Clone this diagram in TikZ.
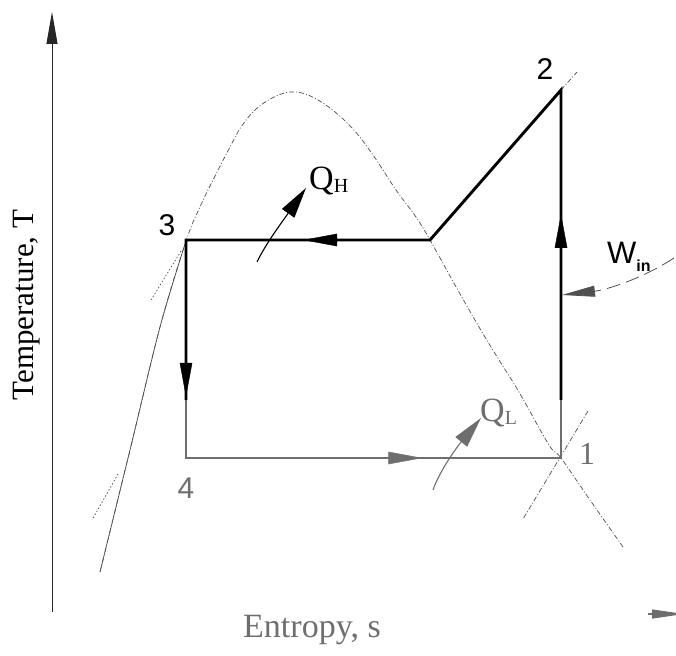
\documentclass[tikz,border=0pt]{standalone}
\usepackage{fontspec}
\setmainfont{Liberation Serif}
\newfontfamily\hsans{Liberation Sans}
\usetikzlibrary{arrows.meta,decorations.markings}
\definecolor{fade}{HTML}{6E6E6E}
\definecolor{domec}{HTML}{505050}
\begin{document}
\begin{tikzpicture}[x=1pt,y=-1pt,
  cyc/.style={line width=2.9pt,line join=miter},
  midarrow/.style={postaction={decorate},decoration={markings,
     mark=at position #1 with {\arrow{Triangle[length=34pt,width=12.5pt]}}}},
  thinln/.style={line width=0.7pt,domec},
  dashln/.style={line width=0.7pt,domec,dash pattern=on 5pt off 2pt on 1pt off 2pt},
  dotln/.style={line width=0.7pt,domec,dash pattern=on 1.5pt off 2pt},
  qarrow/.style={line width=1.1pt,-{Triangle[length=31pt,width=15pt]}},
  num/.style={inner sep=0pt,font=\hsans\fontsize{30}{30}\selectfont},
  big/.style={inner sep=0pt,font=\fontsize{31}{36}\selectfont}
]
\useasboundingbox (0,0) rectangle (676,655);

% axes
\coordinate (o) at (52,612);
\coordinate (ty) at (52,12);
\draw[line width=1pt,black!85,-{Triangle[length=32pt,width=11pt]}] (o) -- (ty);
\coordinate (xs) at (648,614);
\coordinate (xe) at (684,614);
\draw[line width=1.2pt,fade,-{Triangle[length=32pt,width=9pt]}] (xs) -- (xe);

% saturation dome
\draw[dashln] plot[smooth,tension=0.6] coordinates {
 (100,572) (130,450) (160,327) (186,241) (200,207) (213,180) (230,147)
 (241,127) (255,110) (272,98) (290,92) (308,95) (330,108) (353,129)
 (373,155) (396,190) (416,217) (430,240) (455,285) (479,327) (499,360)
 (519,392) (549,445) (561,458) (590,500) (623,547)};
\draw[thinln] plot[smooth] coordinates {(100,572) (130,450) (160,327) (186,241)};
% auxiliary lines
\coordinate (d1a) at (181,251); \coordinate (d1b) at (151,300);
\draw[dotln] (d1a) -- (d1b);
\coordinate (d2a) at (118,474); \coordinate (d2b) at (92,520);
\draw[dotln] (d2a) -- (d2b);
\coordinate (c1a) at (588,411); \coordinate (c1b) at (523,519);
\draw[dashln] (c1a) -- (c1b);

% cycle points
\coordinate (p1) at (561,458);
\coordinate (p2) at (561,90);
\coordinate (p2s) at (430,240);
\coordinate (p3) at (186,240);
\coordinate (p4) at (186,458);
\coordinate (g1) at (561,400);
\coordinate (g3) at (186,400);
\coordinate (p2e) at (577,72);
\draw[dashln] (p2) -- (p2e);

\draw[cyc] (g1) -- (p2) -- (p2s) -- (p3) -- (g3);
\draw[cyc,fade] (g3) -- (p4) -- (p1) -- (g1);
\path[midarrow=0.6] (g1) -- (p2);
\path[midarrow=0.52] (p2s) -- (p3);
\path[midarrow=0.98] (p3) -- (g3);
\path[fade,midarrow=0.63] (p4) -- (p1);

% heat / work arrows
\coordinate (qht) at (257,262); \coordinate (qhh) at (306,188);
\draw[qarrow] (qht) .. controls (265,245) and (282,222) .. (qhh);
\coordinate (qlt) at (433,490); \coordinate (qlh) at (481,418);
\draw[qarrow,fade] (qlt) .. controls (440,470) and (457,447) .. (qlh);
\coordinate (wt) at (674,258); \coordinate (wh) at (562,295);
\draw[line width=0.8pt,domec,dash pattern=on 14pt off 6pt,
      -{Triangle[length=33pt,width=11pt]}] (wt) .. controls (640,280) and (605,290) .. (wh);

% labels
\node[num] (n3) at (167,225) {3};
\node[num] (n2) at (545,69) {2};
\node[num,text=fade] (n4) at (186,488) {4};
\node[inner sep=0pt,text=fade,font=\fontsize{32}{32}\selectfont] (n1) at (587,454) {1};
\node[inner sep=0pt,anchor=base west] (lqh) at (309,189)
  {\fontsize{34}{34}\selectfont Q\raisebox{-3pt}{\fontsize{20}{20}\selectfont H}};
\node[inner sep=0pt,anchor=base west,text=fade] (lql) at (480,421)
  {\fontsize{34}{34}\selectfont Q\raisebox{-3pt}{\fontsize{20}{20}\selectfont L}};
\node[inner sep=0pt,anchor=base west] (lw) at (607,263)
  {\hsans\fontsize{31}{31}\selectfont W\raisebox{-8pt}{\fontsize{16}{16}\selectfont\bfseries in}};
\node[big,rotate=90] (ly) at (27,305) {Temperature, T};
\node[big,anchor=base,text=fade,font=\fontsize{34}{36}\selectfont] (lx) at (312,637) {Entropy, s};
\end{tikzpicture}
\end{document}
